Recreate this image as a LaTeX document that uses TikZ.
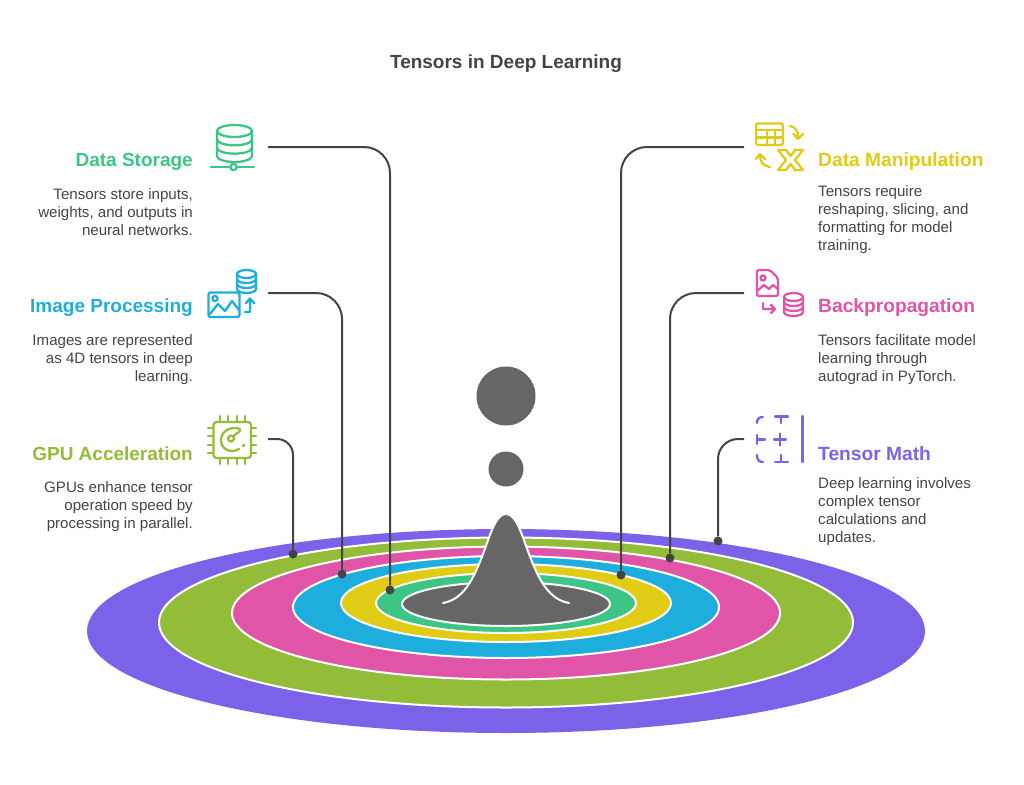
\documentclass[tikz,border=0pt]{standalone}
\usepackage{fontspec}
\setmainfont{Liberation Sans}
\definecolor{cstore}{HTML}{3DC585}
\definecolor{cimage}{HTML}{1DAEDD}
\definecolor{cgpu}{HTML}{93BC39}
\definecolor{cmanip}{HTML}{E0CB15}
\definecolor{cback}{HTML}{E055A8}
\definecolor{cmath}{HTML}{7B62E8}
\definecolor{cgrey}{HTML}{666666}
\definecolor{cline}{HTML}{444444}
\tikzset{
  title/.style={inner sep=0pt,text=cline,font=\fontsize{19}{22}\selectfont\bfseries},
  headr/.style={inner sep=0pt,anchor=west,font=\fontsize{19.2}{22}\selectfont\bfseries},
  headl/.style={inner sep=0pt,anchor=east,font=\fontsize{19}{22}\selectfont\bfseries},
  bodyr/.style={inner sep=0pt,anchor=north west,align=left,text=cline,font=\fontsize{15.1}{18}\selectfont},
  bodyl/.style={inner sep=0pt,anchor=north east,align=right,text=cline,font=\fontsize{15.1}{18}\selectfont},
  ring/.style={draw=white,line width=2pt},
  dot/.style={circle,fill=cline,inner sep=0pt,minimum size=9pt},
  link/.style={draw=cline,line width=2pt,rounded corners=26pt},
  icon/.style={line width=2.3pt,line join=round,line cap=round,fill=none},
}
% stacked disks: centre x, top y, half width, height, disk radius
\newcommand{\dbstack}[5]{
  \draw (#1,#2+#5) ellipse [x radius=#3,y radius=#5];
  \draw (#1-#3,#2+#5) -- (#1-#3,#2+#4-#5) arc[start angle=180,end angle=0,x radius=#3,y radius=#5] -- (#1+#3,#2+#5);
  \draw (#1-#3,#2+#5+#4/3-#5*2/3) arc[start angle=180,end angle=0,x radius=#3,y radius=#5];
  \draw (#1-#3,#2+#5+2*#4/3-#5*4/3) arc[start angle=180,end angle=0,x radius=#3,y radius=#5];
}
\begin{document}
\begin{tikzpicture}[x=1pt,y=-1pt]
  \useasboundingbox (0,0) rectangle (1024,784);
  \node[title] (title) at (506,63.5) {Tensors in Deep Learning};

  % rings, outer to inner
  \fill[cmath] (506,631) ellipse [x radius=419,y radius=102];
  \filldraw[fill=cgpu,ring] (506,622.5) ellipse [x radius=347,y radius=85];
  \filldraw[fill=cback,ring] (506,613) ellipse [x radius=274,y radius=66.5];
  \filldraw[fill=cimage,ring] (506,607) ellipse [x radius=213,y radius=51];
  \filldraw[fill=cmanip,ring] (506,603) ellipse [x radius=165,y radius=39];
  \filldraw[fill=cstore,ring] (506,603) ellipse [x radius=130,y radius=30];
  \filldraw[fill=cgrey,ring] (506,604) ellipse [x radius=104,y radius=22];

  % peak and drops
  \fill[cgrey] (443,603) .. controls (466,599) and (476,574) .. (487,543)
    .. controls (493,526) and (498,514) .. (506,514)
    .. controls (514,514) and (519,526) .. (525,543)
    .. controls (536,574) and (546,599) .. (569,603) -- cycle;
  \draw[white,line width=2pt,line cap=round] (443,603) .. controls (466,599) and (476,574) .. (487,543)
    .. controls (493,526) and (498,514) .. (506,514)
    .. controls (514,514) and (519,526) .. (525,543)
    .. controls (536,574) and (546,599) .. (569,603);
  \node[circle,fill=cgrey,inner sep=0pt,minimum size=59pt] (dropbig) at (506,396) {};
  \node[circle,fill=cgrey,inner sep=0pt,minimum size=35pt] (dropsmall) at (506,469) {};

  % left labels
  \node[headl,text=cstore] (storagehead) at (193,161.5) {Data Storage};
  \node[bodyl] (storagebody) at (193,188.5) {Tensors store inputs,\\weights, and outputs in\\neural networks.};
  \node[headl,text=cimage] (imagehead) at (193,307.5) {Image Processing};
  \node[bodyl] (imagebody) at (193,334.5) {Images are represented\\as 4D tensors in deep\\learning.};
  \node[headl,text=cgpu] (gpuhead) at (193,453.5) {GPU Acceleration};
  \node[bodyl] (gpubody) at (193,481.5) {GPUs enhance tensor\\operation speed by\\processing in parallel.};

  % right labels
  \node[headr,text=cmanip] (maniphead) at (818,161.5) {Data Manipulation};
  \node[bodyr] (manipbody) at (818,185.5) {Tensors require\\reshaping, slicing, and\\formatting for model\\training.};
  \node[headr,text=cback] (backhead) at (818,307.5) {Backpropagation};
  \node[bodyr] (backbody) at (818,334.5) {Tensors facilitate model\\learning through\\autograd in PyTorch.};
  \node[headr,text=cmath] (mathhead) at (818,453.5) {Tensor Math};
  \node[bodyr] (mathbody) at (818,477.5) {Deep learning involves\\complex tensor\\calculations and\\updates.};

  % connectors
  \coordinate (storagestart) at (268,147);
  \coordinate (imagestart) at (268,293);
  \coordinate (gpustart) at (268,439);
  \coordinate (manipstart) at (744,147);
  \coordinate (backstart) at (744,293);
  \coordinate (mathstart) at (744,439);
  \node[dot] (storagedot) at (390,590) {};
  \node[dot] (imagedot) at (342,574) {};
  \node[dot] (gpudot) at (293,554) {};
  \node[dot] (manipdot) at (621,575) {};
  \node[dot] (backdot) at (670,558) {};
  \node[dot] (mathdot) at (718,541) {};
  \draw[link] (storagestart) -| (storagedot);
  \draw[link] (imagestart) -| (imagedot);
  \draw[link,rounded corners=16pt] (gpustart) -| (gpudot);
  \draw[link] (manipstart) -| (manipdot);
  \draw[link] (backstart) -| (backdot);
  \draw[link,rounded corners=20pt] (mathstart) -| (mathdot);

  % storage icon
  \begin{scope}[icon,draw=cstore]
    \dbstack{234.5}{125}{17.5}{37}{6}
    \draw (211,167) -- (230,167) (237,167) -- (254,167) (233.5,162) -- (233.5,164);
    \draw (233.5,167) circle [radius=3.2];
  \end{scope}
  % image icon
  \begin{scope}[icon,draw=cimage]
    \dbstack{246.5}{270}{9.5}{23}{4}
    \draw[rounded corners=2pt] (208.5,292.5) rectangle (239.5,317);
    \draw (215,298.5) circle [radius=2.6];
    \draw (210,314) -- (218,304) -- (225,311) -- (232,301) -- (239,310);
    \draw (245,312) -- (250,312) -- (250,299) (246,303) -- (250,298.5) -- (254,303);
  \end{scope}
  % gpu icon
  \begin{scope}[icon,draw=cgpu]
    \draw[rounded corners=3pt] (213.5,422) rectangle (251,458);
    \foreach \px in {220,228,237,245} {
      \draw (\px,416) -- (\px,422) (\px,458) -- (\px,464);
    }
    \foreach \py in {428,436,445,453} {
      \draw (208,\py) -- (213,\py) (251,\py) -- (256,\py);
    }
    \draw (240,429) .. controls (232,426) and (222,430) .. (221,439)
      .. controls (220,449) and (231,454) .. (239,449);
    \draw (243,446) -- (244,445);
    \draw (231,438.5) circle [radius=3];
    \draw (233.5,436) -- (240,431);
  \end{scope}
  % manipulation icon
  \begin{scope}[icon,draw=cmanip]
    \draw[rounded corners=1.5pt] (756,123.5) rectangle (783,145);
    \draw (756,130) -- (783,130) (756,137.5) -- (783,137.5) (767,130) -- (767,145) (775,130) -- (775,145);
    \draw (790,126) .. controls (796,127) and (798,131) .. (798,138) (793.5,134) -- (798,139) -- (803,134);
    \draw (770,167) .. controls (763,166) and (760,162) .. (760,155) (756,159) -- (760,154) -- (765,159);
    \draw (778,150) -- (786,150) -- (790.5,156) -- (795,150) -- (803,150) -- (795,160) -- (803,170)
      -- (795,170) -- (790.5,164) -- (786,170) -- (778,170) -- (786,160) -- cycle;
  \end{scope}
  % backpropagation icon
  \begin{scope}[icon,draw=cback]
    \draw[rounded corners=2pt] (757,270) -- (770,270) -- (778,278) -- (778,296) -- (757,296) -- cycle;
    \draw (763,278) circle [radius=2.5];
    \draw (757,291) -- (764,285) -- (769,289) -- (773,285) -- (778,289);
    \draw (763,303) -- (763,309) -- (775,309) (771,305) -- (775,309) -- (771,313);
    \dbstack{793.5}{293}{9.5}{23}{4}
  \end{scope}
  % math icon
  \begin{scope}[icon,draw=cmath]
    \draw (757,423) .. controls (757,419) and (759,417) .. (763,417);
    \draw (757,455) .. controls (757,460) and (759,462) .. (763,462);
    \draw (775,416.5) -- (788,416.5) (781,416.5) -- (781,423);
    \draw (775,462) -- (788,462) (781,462) -- (781,455);
    \draw (757,435) -- (757,444) (757,439.5) -- (765,439.5);
    \draw (774,439.5) -- (786,439.5) (780,433.5) -- (780,445.5);
    \draw (802.5,416) -- (802.5,462);
  \end{scope}
\end{tikzpicture}
\end{document}
